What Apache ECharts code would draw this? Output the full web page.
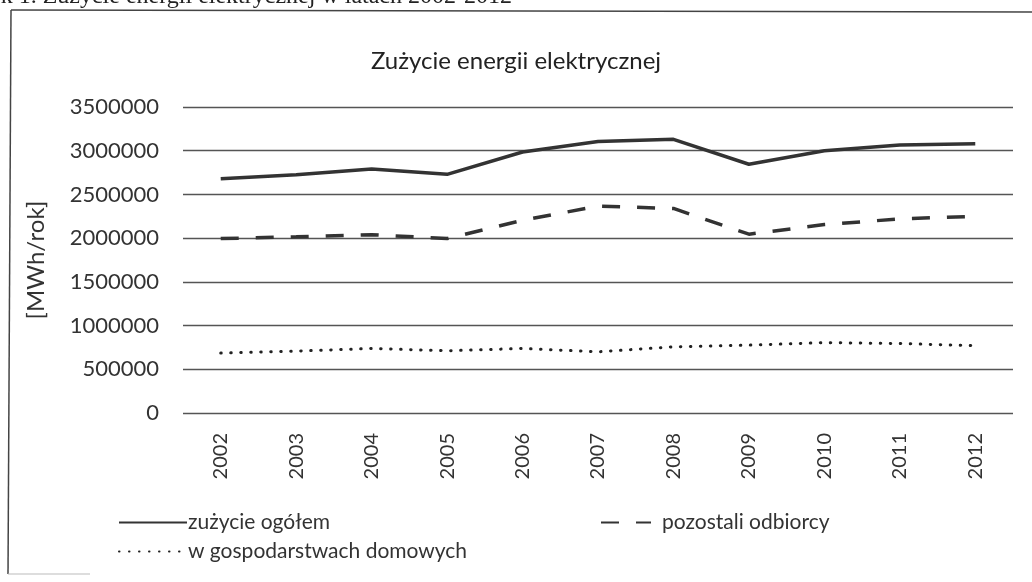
<!DOCTYPE html>
<html>
<head>
<meta charset="utf-8">
<script src="https://cdn.jsdelivr.net/npm/echarts@6/dist/echarts.min.js"></script>
<style>
  html, body { margin: 0; padding: 0; background: #fff; }
  #box { width: 1032px; height: 582px; }
</style>
</head>
<body>
<div id="box"></div>
<script>
// dane
var years = ['2002', '2003', '2004', '2005', '2006', '2007', '2008', '2009', '2010', '2011', '2012'];
var ogolem = [2680000, 2725000, 2790000, 2730000, 2985000, 3105000, 3130000, 2845000, 3000000, 3065000, 3080000];
var pozostali = [1995000, 2015000, 2040000, 1995000, 2205000, 2365000, 2340000, 2045000, 2155000, 2220000, 2250000];
var domowe = [685000, 708000, 738000, 712000, 738000, 700000, 757000, 776000, 805000, 795000, 770000];
var names = ['zużycie ogółem', 'pozostali odbiorcy', 'w gospodarstwach domowych'];

var font = 'Lato, "Open Sans", sans-serif';
var myChart = echarts.init(document.getElementById('box'));

var option = {
  backgroundColor: '#fff',
  animation: false,
  title: {
    text: 'Zużycie energii elektrycznej',
    left: 'center',
    top: 44,
    textStyle: { fontFamily: font, fontSize: 24, fontWeight: 'normal', color: '#222' }
  },
  graphic: [
    {
      type: 'text', right: 520, top: -15,
      style: { text: 'Rysunek 1. Zużycie energii elektrycznej w latach 2002-2012', font: '24px "Liberation Serif", serif', fill: '#222' }
    },
    { type: 'line', shape: { x1: 11, y1: 10, x2: 1032, y2: 12 }, style: { stroke: '#444', lineWidth: 1.5 } },
    { type: 'line', shape: { x1: 11, y1: 10, x2: 8, y2: 574 }, style: { stroke: '#444', lineWidth: 1.5 } },
    { type: 'line', shape: { x1: 8, y1: 574, x2: 90, y2: 574 }, style: { stroke: '#bbb', lineWidth: 1 } }
  ],
  legend: [
    {
      data: [names[0], names[2]],
      orient: 'vertical',
      left: 113,
      top: 507,
      itemWidth: 68,
      itemHeight: 14,
      itemGap: 8,
      itemStyle: { color: 'rgba(0,0,0,0)', borderWidth: 0 },
      textStyle: { fontFamily: font, fontSize: 21, color: '#333', padding: [0, 0, 0, -4] }
    },
    {
      data: [names[1]],
      left: 595,
      top: 507,
      itemWidth: 50,
      itemHeight: 14,
      itemStyle: { color: 'rgba(0,0,0,0)', borderWidth: 0 },
      textStyle: { fontFamily: font, fontSize: 21, color: '#333', padding: [0, 0, 0, 6] }
    }
  ],
  grid: { left: 183, right: 19, top: 107, bottom: 169 },
  xAxis: {
    type: 'category',
    data: years,
    boundaryGap: true,
    axisLine: { show: false },
    axisTick: { show: false },
    axisLabel: { rotate: 90, margin: 20, fontFamily: font, fontSize: 20, color: '#333' }
  },
  yAxis: {
    type: 'value',
    min: 0,
    max: 3500000,
    interval: 500000,
    name: '[MWh/rok]',
    nameLocation: 'middle',
    nameGap: 135,
    nameRotate: 90,
    nameTextStyle: { fontFamily: font, fontSize: 24, color: '#333' },
    axisLine: { show: false },
    axisTick: { show: false },
    axisLabel: { margin: 24, fontFamily: font, fontSize: 22, color: '#333', formatter: function (v) { return String(v); } },
    splitLine: { lineStyle: { color: '#555', width: 1.3 } }
  },
  series: [
    {
      name: names[0], type: 'line', data: ogolem, symbol: 'none',
      lineStyle: { color: '#333', width: 3.5 }, itemStyle: { color: '#333' }
    },
    {
      name: names[1], type: 'line', data: pozostali, symbol: 'none',
      lineStyle: { color: '#333', width: 3.5, type: [18, 17] }, itemStyle: { color: '#333' }
    },
    {
      name: names[2], type: 'line', data: domowe, symbol: 'none',
      lineStyle: { color: '#222', width: 3, type: [0.5, 9.5], cap: 'round' }, itemStyle: { color: '#222' }
    }
  ]
};

myChart.setOption(option);
</script>
</body>
</html>
